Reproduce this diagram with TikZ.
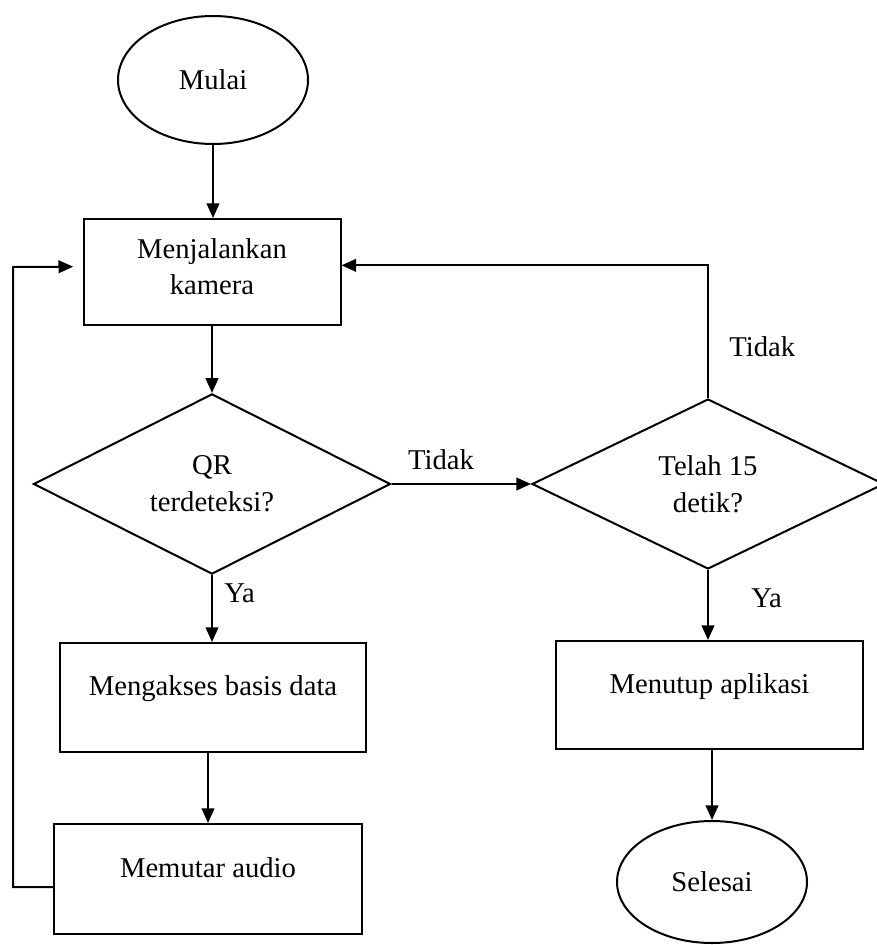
\documentclass[tikz,border=0pt]{standalone}
\usepackage{fontspec}
\setmainfont{Liberation Serif}
\usetikzlibrary{shapes.geometric,arrows.meta}

\begin{document}
\begin{tikzpicture}[x=0.75pt,y=0.75pt,yscale=-1,xscale=1,
  every node/.style={font=\fontsize{21.5}{27.5}\selectfont},
  terminal/.style={draw,line width=1.5pt,ellipse,minimum width=142.5pt,inner sep=0pt},
  process/.style={draw,line width=1.5pt,rectangle,inner sep=0pt,align=center},
  upper/.style={text height=15pt,text depth=18pt},
  decision/.style={draw,line width=1.5pt,diamond,inner sep=0pt,align=center},
  lbl/.style={inner sep=0pt},
  flow/.style={line width=1.5pt,-{Triangle[length=11pt,width=9.5pt]}}]
%set diagram size to 877 x 945
\useasboundingbox (0,0) rectangle (877,945);

%Shape: Ellipse [id:mulai]
\draw (213,80) node [terminal,minimum height=96pt] (mulai) {Mulai};
%Shape: Rectangle [id:kamera]
\draw (212,272) node [process,minimum width=192.75pt,minimum height=79.5pt,text depth=8pt] (kamera) {Menjalankan\\kamera};
%Shape: Diamond [id:qr]
\draw (212,484) node [decision,minimum width=267.75pt,minimum height=126.75pt] (qr) {QR\\terdeteksi?};
%Shape: Rectangle [id:akses]
\draw (213,697.5) node [process,upper,minimum width=229.5pt,minimum height=81.75pt] (akses) {Mengakses basis data};
%Shape: Rectangle [id:audio]
\draw (208,879) node [process,upper,minimum width=231pt,minimum height=82.5pt] (audio) {Memutar audio};
%Shape: Diamond [id:telah]
\draw (708,484) node [decision,minimum width=264pt,minimum height=127.5pt] (telah) {Telah 15\\detik?};
%Shape: Rectangle [id:tutup]
\draw (709.5,695) node [process,upper,minimum width=230.25pt,minimum height=81pt] (tutup) {Menutup aplikasi};
%Shape: Ellipse [id:selesai]
\draw (712,882) node [terminal,minimum height=91.5pt] (selesai) {Selesai};

%Straight Lines
\draw [flow] (mulai.south) -- (mulai.south |- kamera.north);
\draw [flow] (kamera.south) -- (qr.north);
\draw [flow] (qr.south) -- (qr.south |- akses.north);
\draw [flow] (audio.north |- akses.south) -- (audio.north);
\draw [flow] (qr.east) -- (telah.west);
\draw [flow] (telah.south) -- (telah.south |- tutup.north);
\draw [flow] (selesai.north |- tutup.south) -- (selesai.north);
%Loop lines back to kamera (yshift is flipped by yscale=-1)
\coordinate (kiri) at ([xshift=-7pt,yshift=-4pt]kamera.west);
\coordinate (kanan) at ([yshift=-5pt]kamera.east);
\draw [flow] ([yshift=6pt]audio.west) -| (13,267) -- (kiri);
\draw [flow] (telah.north) |- (kanan);

% Text Node
\draw (441,460) node [lbl] (tidakqr) {Tidak};
% Text Node
\draw (729,347) node [lbl,anchor=west] (tidaktelah) {Tidak};
% Text Node
\draw (224,593) node [lbl,anchor=west] (yaqr) {Ya};
% Text Node
\draw (751,598) node [lbl,anchor=west] (yatelah) {Ya};

\end{tikzpicture}
\end{document}
